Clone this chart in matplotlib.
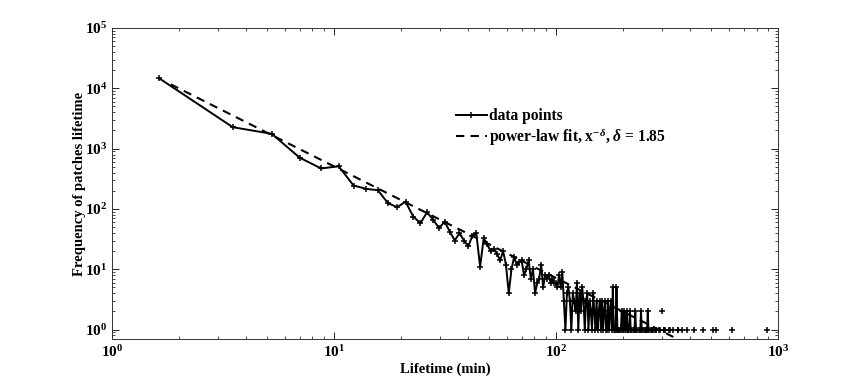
import numpy as np
import matplotlib
matplotlib.use("Agg")
import matplotlib.pyplot as plt
from matplotlib.ticker import LogLocator, FixedLocator, NullFormatter

plt.rcParams['font.family'] = ['Liberation Serif', 'DejaVu Serif']
plt.rcParams['font.weight'] = 'bold'
plt.rcParams['mathtext.fontset'] = 'custom'
plt.rcParams['mathtext.rm'] = 'Liberation Serif:bold'
plt.rcParams['mathtext.bf'] = 'Liberation Serif:bold'
plt.rcParams['mathtext.it'] = 'Liberation Serif:italic:bold'

# lifetime bins (min) and counts, main part of the curve
life_main = [1.63, 3.5, 5.25, 7.0, 8.75, 10.5, 12.25, 14.0, 15.75, 17.5,
             19.25, 21.0, 22.75, 24.5, 26.25, 28.0, 29.75, 31.5, 33.25, 35.0,
             36.75, 38.5, 40.25, 42.0, 43.75, 45.5, 47.25, 49.0, 50.75, 52.5,
             54.25, 56.0, 57.75, 59.5, 61.25, 63.0, 64.75, 66.5, 68.25, 70.0,
             71.75, 73.5, 75.25, 77.0, 78.75, 80.5, 82.25, 84.0, 85.75, 87.5,
             89.25, 91.0, 92.75, 94.5, 96.25, 98.0, 99.75, 101.5, 103.25, 105.0,
             106.75, 108.5, 110.25, 112.0, 113.75, 115.5, 117.25, 119.0, 120.75, 122.5,
             124.25, 126.0, 127.75, 129.5, 131.25, 133.0, 134.75, 136.5, 138.25, 140.0,
             141.75, 143.5, 145.25, 147.0, 148.75, 150.5, 152.25, 154.0, 155.75, 157.5,
             159.25, 161.0, 162.75, 164.5, 166.25, 168.0, 169.75, 171.5, 173.25, 175.0,
             176.75, 178.5, 180.25, 182.0, 183.75, 185.5, 187.25]
count_main = [14700, 2270, 1760, 710, 470, 510, 245, 215, 205, 125,
              107, 132, 75, 58, 88, 66, 48, 62, 42, 30,
              40, 30, 24, 36, 40, 11, 33, 26, 20, 22,
              18, 14, 20, 12, 4, 10, 16, 12, 13, 14,
              8, 10, 14, 7, 10, 4, 6, 7, 12, 5,
              8, 7, 8, 6, 7, 6, 6, 5, 8, 5,
              9, 3, 1, 4, 5, 3, 1, 4, 3, 2,
              6, 1, 4, 2, 5, 3, 1, 3, 4, 1,
              3, 2, 1, 4, 2, 1, 3, 1, 2, 3,
              1, 3, 1, 2, 3, 1, 1, 3, 1, 2,
              3, 1, 5, 1, 1, 1, 5]

# sparse tail: None marks empty bins (line breaks)
life_tail = [189.0, 190.75, 192.5, 194.25, 196.0, 197.75, 199.5, 201.25, 203.0, 204.75,
             206.5, 208.25, 210.0, 211.75, 213.5, 215.25, 217.0, 218.75, None,
             222.25, 224.0, 225.75, 227.5, 229.25, 231.0, None,
             236.25, 238.0, 239.75, 241.5, 243.25, 245.0, None,
             250.25, 252.0, 253.75, 255.5, 257.25, 259.0, 260.75, 262.5, None,
             267.75, 269.5, 271.25, 273.0, None,
             280.0, 281.75, 283.5, None, 292.25, 294.0, None, 299.25, None,
             306.25, 308.0, 309.75, None, 323.75, 325.5, None, 337.75, None,
             354.25, 356.0, None, 371.0, None, 388.5, None, 420.0, None,
             458.5, None, 507.5, None, 525.0, None, 621.25, None, 892.5]
count_tail = [1, 1, 1, 1, 1, 2, 1, 1, 2, 1,
              1, 2, 1, 1, 1, 2, 1, 1, None,
              1, 1, 1, 2, 1, 1, None,
              1, 1, 1, 2, 1, 1, None,
              1, 1, 1, 1, 1, 2, 1, 1, None,
              1, 1, 1, 1, None,
              1, 1, 1, None, 1, 1, None, 2, None,
              1, 1, 1, None, 1, 1, None, 1, None,
              1, 1, None, 1, None, 1, None, 1, None,
              1, None, 1, None, 1, None, 1, None, 1]

# power-law fit
delta = 1.85
fit_amp = 36000
fit_range = [1.84, 420]

life = np.array(life_main + life_tail, dtype=float)
count = np.array(count_main + count_tail, dtype=float)
fit_x = np.logspace(np.log10(fit_range[0]), np.log10(fit_range[1]), 200)
fit_y = fit_amp * fit_x ** (-delta)

fig = plt.figure(figsize=(8.64, 3.82), dpi=100)
ax = fig.add_axes([0.1296, 0.1126, 0.7709, 0.8141])

ax.plot(life, count, color="black", lw=1.4, marker="+", ms=5, mew=1.1,
        label="data points")
ax.plot(fit_x, fit_y, color="black", lw=1.5, dashes=(4, 3),
        label=r"power-law fit, x$^{-\delta}$, $\delta$ = 1.85")

ax.set_xscale("log")
ax.set_yscale("log")
ax.set_xlim(1, 1000)
ax.set_ylim(0.7, 1e5)

ax.xaxis.set_major_locator(FixedLocator([1, 10, 100, 1000]))
ax.yaxis.set_major_locator(FixedLocator([1, 10, 100, 1000, 1e4, 1e5]))
ax.xaxis.set_minor_locator(LogLocator(base=10, subs=np.arange(2, 10), numticks=20))
ax.yaxis.set_minor_locator(LogLocator(base=10, subs=np.arange(2, 10), numticks=20))
ax.xaxis.set_minor_formatter(NullFormatter())
ax.yaxis.set_minor_formatter(NullFormatter())
ax.set_xticklabels([r"$\mathbf{10^{%d}}$" % i for i in range(4)])
ax.set_yticklabels([r"$\mathbf{10^{%d}}$" % i for i in range(6)])

ax.tick_params(which="both", direction="in", top=True, right=True, labelsize=11)
ax.tick_params(which="major", length=5, width=0.6)
ax.tick_params(which="minor", length=2.5, width=0.5)
for sp in ax.spines.values():
    sp.set_linewidth(0.7)
    sp.set_color("#333333")

ax.set_xlabel("Lifetime (min)", fontsize=10.5, fontweight="bold", labelpad=2)
ax.set_ylabel("Frequency of patches lifetime", fontsize=10.5, fontweight="bold", labelpad=-1)

ax.legend(loc="upper left", bbox_to_anchor=(0.507, 0.762), frameon=False,
          fontsize=11.2, handlelength=2.0, handletextpad=0.1, labelspacing=0.1,
          borderaxespad=0)

fig.savefig("out.png", dpi=100)
